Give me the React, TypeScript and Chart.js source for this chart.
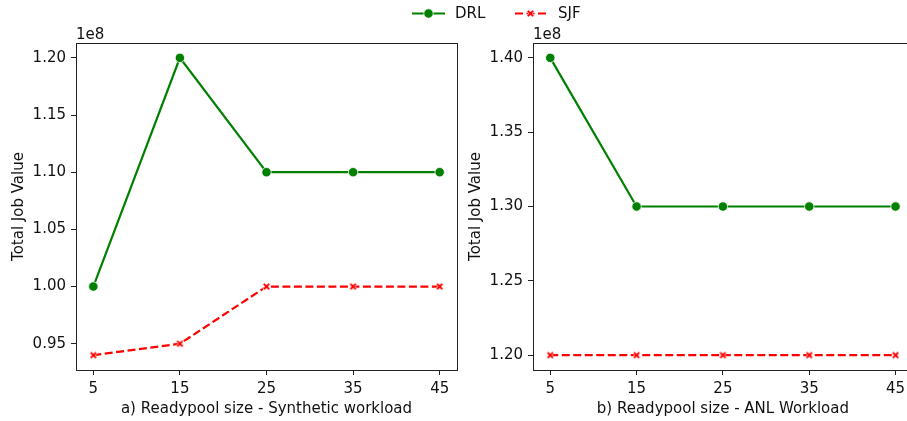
import React, { useEffect, useRef } from "react";
import { Chart, registerables } from "chart.js";

Chart.register(...registerables);

const readypool = [5, 15, 25, 35, 45];
const xTicks = [5, 15, 25, 35, 45];

const drlSynthetic = [1.0e8, 1.2e8, 1.1e8, 1.1e8, 1.1e8];
const sjfSynthetic = [0.94e8, 0.95e8, 1.0e8, 1.0e8, 1.0e8];
const drlAnl = [1.4e8, 1.3e8, 1.3e8, 1.3e8, 1.3e8];
const sjfAnl = [1.2e8, 1.2e8, 1.2e8, 1.2e8, 1.2e8];

const yTicksSynthetic = [0.95e8, 1.0e8, 1.05e8, 1.1e8, 1.15e8, 1.2e8];
const yTicksAnl = [1.2e8, 1.25e8, 1.3e8, 1.35e8, 1.4e8];

const seriesNames = ["DRL", "SJF"];
const xTitles = ["a) Readypool size - Synthetic workload", "b) Readypool size - ANL Workload"];
const yTitle = "Total Job Value";
const offsetText = "1e8";

const GREEN = "#008000";
const RED = "#ff0000";
const FONT = "'DejaVu Sans', sans-serif";
const FS = 15;
const TEXT = "#111";
const DASH = [8, 3.5];
const LW = 2.2;

function makeXMarker(): HTMLCanvasElement {
  const c = document.createElement("canvas");
  const s = 11;
  c.width = s;
  c.height = s;
  const ctx = c.getContext("2d")!;
  ctx.translate(s / 2, s / 2);
  const a = 3.7;
  const w = 1.35;
  ctx.beginPath();
  const pts: [number, number][] = [
    [0, -w * 1.414], [a - w, -a], [a, -a + w], [w * 1.414, 0], [a, a - w], [a - w, a],
    [0, w * 1.414], [-a + w, a], [-a, a - w], [-w * 1.414, 0], [-a, -a + w], [-a + w, -a],
  ];
  pts.forEach(([x, y], i) => (i ? ctx.lineTo(x, y) : ctx.moveTo(x, y)));
  ctx.closePath();
  ctx.strokeStyle = "#fff";
  ctx.lineWidth = 0.8;
  ctx.fillStyle = RED;
  ctx.fill();
  ctx.stroke();
  return c;
}

const framePlugin = {
  id: "frame",
  afterDatasetsDraw(chart: any) {
    const { ctx, chartArea: a } = chart;
    ctx.save();
    ctx.strokeStyle = "#222";
    ctx.lineWidth = 1;
    ctx.strokeRect(Math.round(a.left) + 0.5, Math.round(a.top) + 0.5, Math.round(a.right - a.left), Math.round(a.bottom - a.top));
    ctx.font = `${FS}px ${FONT}`;
    ctx.fillStyle = TEXT;
    ctx.textAlign = "left";
    ctx.textBaseline = "alphabetic";
    ctx.fillText(offsetText, a.left, a.top - 4);
    ctx.restore();
  },
};

function legendPlugin(xMarker: HTMLCanvasElement) {
  return {
    id: "topLegend",
    afterDraw(chart: any) {
      const { ctx } = chart;
      const y = 13.5;
      ctx.save();
      ctx.strokeStyle = GREEN;
      ctx.lineWidth = LW;
      ctx.beginPath();
      ctx.moveTo(412, y);
      ctx.lineTo(445, y);
      ctx.stroke();
      ctx.beginPath();
      ctx.arc(428.5, y, 4.7, 0, Math.PI * 2);
      ctx.fillStyle = GREEN;
      ctx.fill();
      ctx.strokeStyle = "#fff";
      ctx.lineWidth = 0.8;
      ctx.stroke();
      ctx.strokeStyle = RED;
      ctx.lineWidth = LW;
      ctx.setLineDash(DASH);
      ctx.beginPath();
      ctx.moveTo(515, y);
      ctx.lineTo(546, y);
      ctx.stroke();
      ctx.setLineDash([]);
      ctx.drawImage(xMarker, 530.5 - xMarker.width / 2, y - xMarker.height / 2);
      ctx.font = `${FS}px ${FONT}`;
      ctx.fillStyle = TEXT;
      ctx.textBaseline = "middle";
      ctx.textAlign = "left";
      ctx.fillText(seriesNames[0], 455, y + 1);
      ctx.fillText(seriesNames[1], 558, y + 1);
      ctx.restore();
    },
  };
}

function buildConfig(
  drl: number[],
  sjf: number[],
  yTicks: number[],
  yMin: number,
  yMax: number,
  xTitle: string,
  padLeft: number,
  padRight: number,
  xMarker: HTMLCanvasElement,
  extraPlugins: any[]
): any {
  return {
    type: "line",
    data: {
      labels: readypool,
      datasets: [
        {
          label: seriesNames[0],
          data: readypool.map((x, i) => ({ x, y: drl[i] })),
          borderColor: GREEN,
          borderWidth: LW,
          pointStyle: "circle",
          pointRadius: 4.7,
          pointBackgroundColor: GREEN,
          pointBorderColor: "#fff",
          pointBorderWidth: 0.8,
          tension: 0,
        },
        {
          label: seriesNames[1],
          data: readypool.map((x, i) => ({ x, y: sjf[i] })),
          borderColor: RED,
          borderWidth: LW,
          borderDash: DASH,
          pointStyle: xMarker,
          pointRadius: 5,
          tension: 0,
        },
      ],
    },
    options: {
      animation: false,
      responsive: false,
      events: [],
      layout: { padding: { left: padLeft, right: padRight, top: 43, bottom: 0 } },
      plugins: { legend: { display: false }, tooltip: { enabled: false } },
      scales: {
        x: {
          type: "linear",
          min: 3,
          max: 47,
          afterBuildTicks: (s: any) => {
            s.ticks = xTicks.map((v) => ({ value: v }));
          },
          afterFit: (s: any) => {
            s.height = 51;
          },
          border: { display: false },
          grid: { drawOnChartArea: false, drawTicks: true, tickLength: 5, tickColor: "#222", tickWidth: 1 },
          ticks: {
            font: { family: FONT, size: FS },
            color: TEXT,
            padding: 5,
            maxRotation: 0,
            callback: (v: number) => String(v),
          },
          title: {
            display: true,
            text: xTitle,
            font: { family: FONT, size: FS },
            color: TEXT,
            padding: { top: 0, bottom: 3 },
          },
        },
        y: {
          type: "linear",
          min: yMin,
          max: yMax,
          afterBuildTicks: (s: any) => {
            s.ticks = yTicks.map((v) => ({ value: v }));
          },
          afterFit: (s: any) => {
            s.width = 76;
          },
          border: { display: false },
          grid: { drawOnChartArea: false, drawTicks: true, tickLength: 5, tickColor: "#222", tickWidth: 1 },
          ticks: {
            font: { family: FONT, size: FS },
            color: TEXT,
            padding: 5,
            callback: (v: number) => (v / 1e8).toFixed(2),
          },
          title: {
            display: true,
            text: yTitle,
            font: { family: FONT, size: FS },
            color: TEXT,
            padding: { top: 10, bottom: 0 },
          },
        },
      },
    },
    plugins: [framePlugin, ...extraPlugins],
  };
}

export default function App() {
  const ref1 = useRef<HTMLCanvasElement>(null);
  const ref2 = useRef<HTMLCanvasElement>(null);

  useEffect(() => {
    const xMarker = makeXMarker();
    const c1 = new Chart(
      ref1.current!,
      buildConfig(drlSynthetic, sjfSynthetic, yTicksSynthetic, 0.927e8, 1.213e8, xTitles[0], 0, 450, xMarker, [legendPlugin(xMarker)])
    );
    const c2 = new Chart(
      ref2.current!,
      buildConfig(drlAnl, sjfAnl, yTicksAnl, 1.19e8, 1.41e8, xTitles[1], 457, 7, xMarker, [])
    );
    return () => {
      c1.destroy();
      c2.destroy();
    };
  }, []);

  return (
    <div style={{ position: "absolute", left: 0, top: 0, width: 907, height: 421, overflow: "hidden", background: "#fff" }}>
      <canvas ref={ref1} width={907} height={421} style={{ position: "absolute", left: 0, top: 0 }} />
      <canvas ref={ref2} width={920} height={421} style={{ position: "absolute", left: 0, top: 0 }} />
    </div>
  );
}
